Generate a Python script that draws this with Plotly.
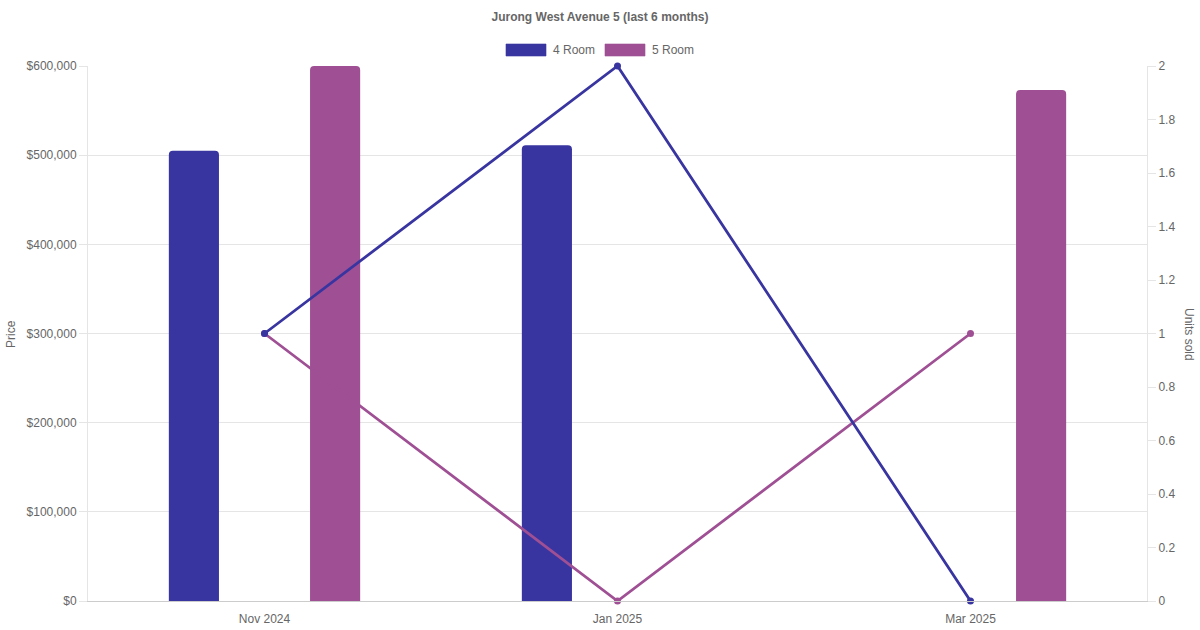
import plotly.graph_objects as go

months = ["Nov 2024", "Jan 2025", "Mar 2025"]
price_4room = [505000, 511000, None]
price_5room = [600000, None, 573000]
units_4room = [1, 2, 0]
units_5room = [1, 0, 1]
left_ticks = [0, 100000, 200000, 300000, 400000, 500000, 600000]
left_labels = ["$0", "$100,000", "$200,000", "$300,000", "$400,000", "$500,000", "$600,000"]
right_ticks = [0, 0.2, 0.4, 0.6, 0.8, 1, 1.2, 1.4, 1.6, 1.8, 2]
right_labels = ["0", "0.2", "0.4", "0.6", "0.8", "1", "1.2", "1.4", "1.6", "1.8", "2"]

C4 = "rgb(57,53,160)"
C5 = "rgb(159,80,148)"
FONT = "Liberation Sans, Arial, sans-serif"
GREY = "#666666"

L, R, T, B = 88, 1147, 66, 601
PW, PH = R - L, B - T


def px(x):
    return (x - L) / PW


def py(y):
    return (B - y) / PH


fig = go.Figure()
fig.add_trace(go.Bar(x=months, y=price_4room, name="4 Room", marker=dict(color=C4, line=dict(width=0)),
                     showlegend=False))
fig.add_trace(go.Bar(x=months, y=price_5room, name="5 Room", marker=dict(color=C5, line=dict(width=0)),
                     showlegend=False))
fig.add_trace(go.Scatter(x=months, y=units_5room, yaxis="y2", mode="lines+markers", name="5 Room units",
                         line=dict(color=C5, width=2.8), marker=dict(color=C5, size=7), showlegend=False,
                         cliponaxis=False))
fig.add_trace(go.Scatter(x=months, y=units_4room, yaxis="y2", mode="lines+markers", name="4 Room units",
                         line=dict(color=C4, width=2.8), marker=dict(color=C4, size=7), showlegend=False,
                         cliponaxis=False))

shapes = [
    dict(type="rect", xref="paper", yref="paper", x0=px(506), x1=px(546), y0=py(56), y1=py(44),
         fillcolor=C4, line=dict(color="rgba(57,53,160,0.6)", width=1)),
    dict(type="rect", xref="paper", yref="paper", x0=px(605), x1=px(645), y0=py(56), y1=py(44),
         fillcolor=C5, line=dict(color="rgba(159,80,148,0.6)", width=1)),
]
annotations = [
    dict(text="4 Room", xref="paper", yref="paper", x=px(551), y=py(50), xanchor="left",
         yanchor="middle", showarrow=False, font=dict(family=FONT, size=12, color=GREY)),
    dict(text="5 Room", xref="paper", yref="paper", x=px(650), y=py(50), xanchor="left",
         yanchor="middle", showarrow=False, font=dict(family=FONT, size=12, color=GREY)),
    dict(text="Price", xref="paper", yref="paper", x=px(11), y=py(334), xanchor="center",
         yanchor="middle", textangle=-90, showarrow=False, font=dict(family=FONT, size=12, color=GREY)),
    dict(text="Units sold", xref="paper", yref="paper", x=px(1189), y=py(334), xanchor="center",
         yanchor="middle", textangle=90, showarrow=False, font=dict(family=FONT, size=12, color=GREY)),
]

fig.update_layout(
    width=1200, height=630,
    margin=dict(l=L, r=1200 - R, t=T, b=630 - B, autoexpand=False),
    paper_bgcolor="white", plot_bgcolor="white",
    title=dict(text="<b>Jurong West Avenue 5 (last 6 months)</b>", x=0.5, xanchor="center",
               y=1 - 17 / 630, yanchor="middle", font=dict(family=FONT, size=12, color=GREY)),
    font=dict(family=FONT, size=12, color=GREY),
    barmode="group", bargap=0.2, bargroupgap=0.645, barcornerradius=4,
    shapes=shapes, annotations=annotations,
    xaxis=dict(showgrid=False, showline=True, linecolor="#cccccc", linewidth=1, ticks="outside",
               ticklen=7, tickcolor="rgba(0,0,0,0)", tickfont=dict(size=12, color=GREY), automargin=False),
    yaxis=dict(range=[0, 600000], tickvals=left_ticks, ticktext=left_labels, showgrid=True,
               gridcolor="#e5e5e5", gridwidth=1, zeroline=False, showline=True, linecolor="#e5e5e5",
               ticks="outside", ticklen=8, tickcolor="#e5e5e5", tickfont=dict(size=12, color=GREY),
               automargin=False),
    yaxis2=dict(range=[0, 2], overlaying="y", side="right", tickvals=right_ticks, ticktext=right_labels,
                showgrid=False, zeroline=False, showline=True, linecolor="#e5e5e5", ticks="outside",
                ticklen=8, tickcolor="#e5e5e5", tickfont=dict(size=12, color=GREY), automargin=False),
    hovermode="x",
)

fig.write_html("out.html", config={"displayModeBar": False},
               post_script="document.body.style.margin='0px';")
